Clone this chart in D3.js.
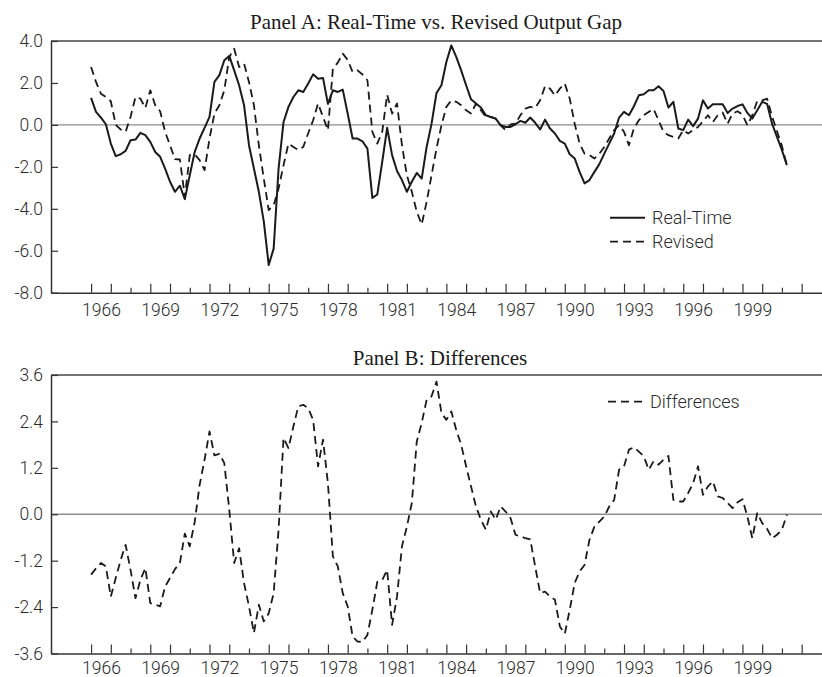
<!DOCTYPE html>
<html>
<head>
<meta charset="utf-8">
<script src="https://cdn.jsdelivr.net/npm/d3@7"></script>
<style>
  body { margin: 0; background: #fff; }
  svg { display: block; }
  .tick text, .legend text { font-family: Roboto, "Liberation Sans", sans-serif; font-weight: 300; fill: #2b2b2b; }
  .title { font-family: "Liberation Serif", "DejaVu Serif", serif; fill: #1a1a1a; }
</style>
</head>
<body>
<svg id="chart" width="822" height="677"></svg>
<script>
// quarterly output gap, 1966Q1 - 2001Q2
const startYear = 1966;

const realTime = [
  1.29, 0.62, 0.35, 0.03,   -0.89, -1.49, -1.40, -1.24,   -0.73, -0.70, -0.38, -0.49,
  -0.81, -1.29, -1.52, -2.08,   -2.71, -3.19, -2.90, -3.54,   -2.40, -1.29, -0.65, -0.14,
  0.38, 2.05, 2.37, 3.08,   3.29, 2.60, 1.89, 0.94,   -0.97, -2.08, -3.19, -4.60,
  -6.68, -5.90, -2.08, 0.14,   0.86, 1.33, 1.65, 1.57,   1.97, 2.41, 2.20, 2.24,
  1.00, 1.65, 1.57, 1.68,   0.54, -0.65, -0.65, -0.78,   -1.13, -3.48, -3.32, -1.76,
  -0.14, -1.44, -2.20, -2.63,   -3.19, -2.71, -2.29, -2.56,   -1.05, 0.06, 1.52, 1.89,
  3.00, 3.79, 3.24, 2.60,   1.89, 1.22, 1.02, 0.83,   0.46, 0.38, 0.30, -0.02,
  -0.10, -0.10, 0.03, 0.19,   0.10, 0.35, 0.10, -0.22,   0.25, -0.17, -0.41, -0.76,
  -0.89, -1.40, -1.60, -2.24,   -2.79, -2.63, -2.24, -1.87,   -1.37, -0.89, -0.41, 0.35,
  0.62, 0.46, 0.89, 1.41,   1.46, 1.65, 1.65, 1.84,   1.62, 0.83, 1.10, -0.17,
  -0.25, 0.25, -0.06, 0.30,   1.17, 0.78, 0.98, 0.98,   0.98, 0.57, 0.78, 0.90,
  0.98, 0.57, 0.30, 0.70,   1.10, 1.00, 0.06, -0.57,   -1.20, -1.92
];

const revised = [
  2.76, 2.05, 1.49, 1.33,   1.13, 0.00, -0.22, -0.33,   0.38, 1.33, 1.25, 0.81,
  1.65, 0.94, 0.65, -0.33,   -0.97, -1.63, -1.65, -3.43,   -1.44, -1.41, -1.68, -2.16,
  -0.65, 0.54, 0.94, 1.65,   3.24, 3.63, 2.76, 2.92,   2.05, 0.94, -0.97, -2.56,
  -4.06, -3.83, -3.03, -1.92,   -0.89, -1.05, -1.20, -1.05,   -0.40, 0.22, 1.02, 0.38,
  -0.25, 2.68, 2.97, 3.40,   3.10, 2.52, 2.60, 2.40,   2.13, -0.33, -0.89, -0.33,
  1.44, 0.54, 1.02, -0.97,   -2.40, -3.19, -4.14, -4.75,   -3.67, -2.40, -1.13, -0.02,
  0.86, 1.17, 1.10, 0.94,   0.70, 0.54, 1.02, 0.70,   0.38, 0.38, 0.30, -0.02,
  -0.25, 0.02, 0.06, 0.46,   0.78, 0.86, 0.81, 1.17,   1.85, 1.73, 1.40, 1.73,
  1.97, 1.25, 0.06, -0.89,   -1.37, -1.44, -1.60, -1.37,   -1.05, -0.65, -0.25, -0.02,
  -0.33, -0.97, -0.17, 0.22,   0.46, 0.62, 0.75, 0.22,   -0.33, -0.49, -0.57, -0.65,
  -0.25, -0.41, -0.25, -0.10,   0.17, 0.46, 0.14, 0.46,   0.59, 0.06, 0.54, 0.65,
  0.49, -0.02, 0.46, 1.15,   1.17, 1.25, 0.40, -0.30,   -1.00, -1.92
];

const differences = [
  -1.56, -1.40, -1.26, -1.35,   -2.13, -1.65, -1.18, -0.79,   -1.44, -2.17, -1.70, -1.39,
  -2.30, -2.34, -2.38, -1.87,   -1.65, -1.42, -1.26, -0.50,   -0.83, -0.20, 0.76, 1.41,
  2.14, 1.52, 1.56, 1.32,   0.12, -1.26, -0.88, -1.78,   -2.38, -3.07, -2.34, -2.77,
  -2.56, -2.04, -0.40, 1.97,   1.71, 2.27, 2.79, 2.83,   2.74, 2.44, 1.24, 1.93,
  0.80, -1.09, -1.35, -2.04,   -2.38, -3.16, -3.29, -3.30,   -3.12, -2.47, -1.75, -1.70,
  -1.44, -2.86, -2.13, -0.83,   -0.32, 0.29, 1.88, 2.36,   2.96, 3.05, 3.43, 2.62,
  2.44, 2.66, 2.18, 1.80,   1.24, 0.72, 0.20, -0.14,   -0.40, 0.07, -0.14, 0.20,
  0.07, -0.10, -0.53, -0.57,   -0.62, -0.65, -1.35, -2.04,   -2.00, -2.13, -2.21, -2.90,
  -3.09, -2.47, -1.78, -1.48,   -1.31, -0.66, -0.32, -0.19,   -0.06, 0.20, 0.37, 1.15,
  1.24, 1.67, 1.73, 1.62,   1.50, 1.15, 1.37, 1.28,   1.41, 1.51, 0.37, 0.33,
  0.33, 0.55, 0.80, 1.24,   0.50, 0.72, 0.85, 0.46,   0.42, 0.29, 0.16, 0.31,
  0.39, -0.06, -0.62, 0.03,   -0.23, -0.38, -0.62, -0.53,   -0.40, -0.01
];

const yTicksA = [4, 2, 0, -2, -4, -6, -8];
const yLabelsA = ["4.0", "2.0", "0.0", "-2.0", "-4.0", "-6.0", "-8.0"];
const yTicksB = [3.6, 2.4, 1.2, 0, -1.2, -2.4, -3.6];
const yLabelsB = ["3.6", "2.4", "1.2", "0.0", "-1.2", "-2.4", "-3.6"];
const labelYears = [1966, 1969, 1972, 1975, 1978, 1981, 1984, 1987, 1990, 1993, 1996, 1999];
const tickYears = d3.range(1966, 2003);

const svg = d3.select("#chart");
const left = 51, right = 822;
const x = d3.scaleLinear().domain([1963.97, 2003.03]).range([left, right]);
const when = i => startYear + i / 4;

function drawPanel(p) {
  const y = d3.scaleLinear().domain(p.domain).range([p.bottom, p.top]);
  const g = svg.append("g");

  g.append("text")
    .attr("class", "title")
    .attr("x", p.titleX)
    .attr("y", p.titleY)
    .attr("text-anchor", "middle")
    .style("font-size", "21px")
    .text(p.title);

  // zero line
  g.append("line")
    .attr("x1", left).attr("x2", right)
    .attr("y1", y(0)).attr("y2", y(0))
    .attr("stroke", "#8c8c8c").attr("stroke-width", 1.3);

  // top frame line
  g.append("line")
    .attr("x1", left).attr("x2", right)
    .attr("y1", p.top).attr("y2", p.top)
    .attr("stroke", "#444").attr("stroke-width", 1.5);

  const yAxis = g.append("g")
    .attr("transform", `translate(${left},0)`)
    .call(d3.axisLeft(y).tickValues(p.ticks)
      .tickFormat(d => p.labels[p.ticks.indexOf(d)])
      .tickSize(-7).tickSizeOuter(0).tickPadding(8));
  yAxis.select(".domain").attr("stroke", "#333").attr("stroke-width", 1.5);
  yAxis.selectAll(".tick line").attr("stroke", "#333").attr("stroke-width", 1.2);
  yAxis.selectAll(".tick text").style("font-size", "17.5px");

  const xAxis = g.append("g")
    .attr("transform", `translate(0,${p.bottom})`)
    .call(d3.axisBottom(x).tickValues(tickYears).tickFormat("")
      .tickSize(-9).tickSizeOuter(0));
  xAxis.select(".domain").attr("stroke", "#333").attr("stroke-width", 1.5);
  xAxis.selectAll(".tick line").attr("stroke", "#333").attr("stroke-width", 1.2)
    .filter(d => (d - 1966) % 3 === 2).attr("y2", -5);

  // year labels sit in the middle of their year
  const xLabels = g.append("g")
    .attr("transform", `translate(0,${p.bottom})`)
    .call(d3.axisBottom(x).tickValues(labelYears.map(d => d + 0.5))
      .tickFormat(d => String(d - 0.5)).tickSize(0).tickPadding(p.labelPad));
  xLabels.select(".domain").remove();
  xLabels.selectAll(".tick text").style("font-size", "17.5px");

  const line = d3.line().x((d, i) => x(when(i))).y(d => y(d));

  p.series.forEach(s => {
    g.append("path")
      .datum(s.values)
      .attr("fill", "none")
      .attr("stroke", "#1a1a1a")
      .attr("stroke-width", s.dashed ? 1.8 : 2)
      .attr("stroke-dasharray", s.dashed ? "8,5" : null)
      .attr("stroke-linejoin", "round")
      .attr("d", line);
  });

  const lg = g.append("g").attr("class", "legend");
  p.series.forEach((s, i) => {
    const ly = p.legendY + i * 24;
    lg.append("line")
      .attr("x1", p.legendX).attr("x2", p.legendX + 35)
      .attr("y1", ly).attr("y2", ly)
      .attr("stroke", "#1a1a1a")
      .attr("stroke-width", s.dashed ? 1.8 : 2)
      .attr("stroke-dasharray", s.dashed ? "8,5" : null);
    lg.append("text")
      .attr("x", p.legendX + 42)
      .attr("y", ly + 6)
      .style("font-size", "18px")
      .text(s.name);
  });
}

drawPanel({
  title: "Panel A: Real-Time vs. Revised Output Gap",
  titleX: 436, titleY: 29,
  top: 41, bottom: 292.7,
  domain: [-8, 4], ticks: yTicksA, labels: yLabelsA,
  labelPad: 10.5,
  legendX: 610, legendY: 217.7,
  series: [
    { name: "Real-Time", values: realTime, dashed: false },
    { name: "Revised", values: revised, dashed: true }
  ]
});

drawPanel({
  title: "Panel B: Differences",
  titleX: 440, titleY: 365,
  top: 375, bottom: 653.5,
  domain: [-3.6, 3.6], ticks: yTicksB, labels: yLabelsB,
  labelPad: 8,
  legendX: 608, legendY: 401.7,
  series: [
    { name: "Differences", values: differences, dashed: true }
  ]
});
</script>
</body>
</html>
